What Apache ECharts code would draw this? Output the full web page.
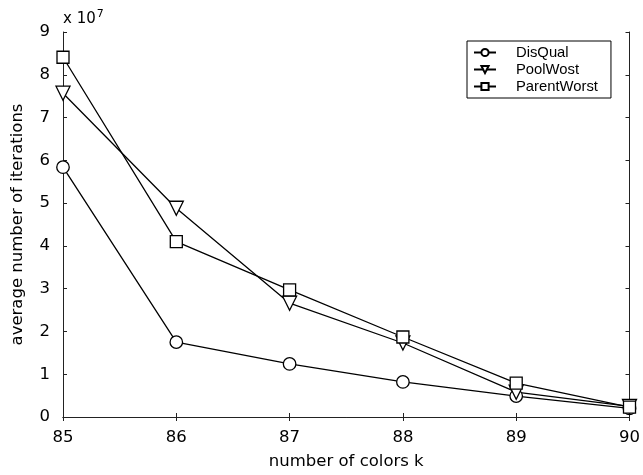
<!DOCTYPE html>
<html>
<head>
<meta charset="utf-8">
<script src="https://cdn.jsdelivr.net/npm/echarts@6/dist/echarts.min.js"></script>
<style>html,body{margin:0;padding:0;background:#fff}#c{width:643px;height:475px}</style>
</head>
<body>
<div id="c"></div>
<script>
var kValues = [85, 86, 87, 88, 89, 90];
var disQual = [5.84, 1.75, 1.24, 0.82, 0.49, 0.2];
var poolWost = [7.57, 4.88, 2.66, 1.73, 0.58, 0.25];
var parentWorst = [8.41, 4.1, 2.97, 1.87, 0.79, 0.23];
var seriesNames = ['DisQual', 'PoolWost', 'ParentWorst'];

function pairs(arr){ return kValues.map(function(k,i){ return [k, arr[i]]; }); }

var font = 'DejaVu Sans, sans-serif';
var legendFont = 'Liberation Sans, Arial, sans-serif';
var downTri = 'path://M0,0 L10,0 L5,9 Z';
function mk(name, data, symbol, size){
  return {
    name: name, type: 'line', data: pairs(data), symbol: symbol, symbolSize: size,
    lineStyle: {color: '#000', width: 1.3},
    itemStyle: {color: '#fff', borderColor: '#000', borderWidth: 1.3},
    emphasis: {disabled: true}, animation: false, z: 3
  };
}
var axisCommon = {
  axisLine: {lineStyle: {color: '#222', width: 1}},
  axisTick: {inside: true, length: 4, lineStyle: {color: '#222'}},
  splitLine: {show: false}
};
var chart = echarts.init(document.getElementById('c'));
chart.setOption({
  animation: false,
  backgroundColor: '#fff',
  grid: {left: 63, right: 10, top: 32, bottom: 58},
  xAxis: [
    Object.assign({type: 'value', min: 85, max: 90, interval: 1, position: 'bottom',
      name: 'number of colors k', nameLocation: 'middle', nameGap: 36,
      nameTextStyle: {fontFamily: font, fontSize: 16.5, color: '#000'},
      axisLabel: {fontFamily: font, fontSize: 16.5, color: '#000', margin: 12}}, axisCommon),
    Object.assign({type: 'value', min: 85, max: 90, interval: 1, position: 'top',
      axisLabel: {show: false}}, axisCommon)
  ],
  yAxis: [
    Object.assign({type: 'value', min: 0, max: 9, interval: 1, position: 'left',
      name: 'average number of iterations', nameLocation: 'middle', nameGap: 37,
      nameTextStyle: {fontFamily: font, fontSize: 16.5, color: '#000'},
      axisLabel: {fontFamily: font, fontSize: 16.5, color: '#000', margin: 13}}, axisCommon),
    Object.assign({type: 'value', min: 0, max: 9, interval: 1, position: 'right',
      axisLabel: {show: false}}, axisCommon)
  ],
  legend: {
    orient: 'vertical', left: 467, top: 41,
    data: seriesNames,
    backgroundColor: '#fff', borderColor: '#000', borderWidth: 1,
    padding: [4, 13, 4, 6], itemGap: 2, itemWidth: 22, itemHeight: 9,
    textStyle: {fontFamily: legendFont, fontSize: 14.8, color: '#000', padding: [0, 0, 0, 15]},
    selectedMode: false
  },
  graphic: [{
    type: 'text', left: 63, top: 9,
    style: {
      text: '{a|x 10}{b|7}', fill: '#000',
      rich: {a: {fontFamily: font, fontSize: 15}, b: {fontFamily: font, fontSize: 11, verticalAlign: 'top', padding: [0,0,9,1]}}
    }
  }],
  series: [
    mk('DisQual', disQual, 'circle', 12.5),
    mk('PoolWost', poolWost, downTri, 14),
    mk('ParentWorst', parentWorst, 'rect', 12)
  ]
});
</script>
</body>
</html>
